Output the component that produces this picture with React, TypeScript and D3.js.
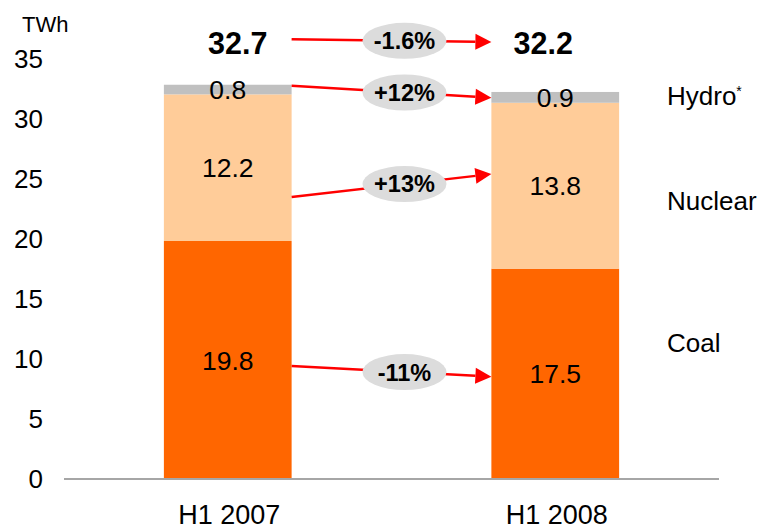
import React from "react";
import * as d3 from "d3";

// ---- data ----
const categories = ["H1 2007", "H1 2008"];
const coal = [19.8, 17.5];
const nuclear = [12.2, 13.8];
const hydro = [0.8, 0.9];
const totals = [32.7, 32.2];
const seriesNames = ["Coal", "Nuclear", "Hydro"];
const yTicks = [0, 5, 10, 15, 20, 25, 30, 35];
const unitLabel = "TWh";
// change arrows: coal, nuclear, hydro, total
const changeLabels = ["-11%", "+13%", "+12%", "-1.6%"];
const arrowFrom = [9.4, 23.46, 32.72, 36.58];
const arrowTo = [8.51, 25.37, 31.72, 36.36];

// ---- layout ----
const W = 760;
const H = 531;
const FONT = "'Liberation Sans', Arial, Helvetica, sans-serif";
const colors = ["#ff6600", "#ffcc99", "#c0c0c0"];
const legendAnchor = [11.31, 23.17, 31.86];
const totalDx = [10, -12];

export default function App() {
  const x = d3
    .scaleBand<string>()
    .domain(categories)
    .range([64, 719])
    .paddingInner(0.61)
    .paddingOuter(0.305);
  const y = d3.scaleLinear().domain([0, 35]).range([479, 58.3]);

  const rows = categories.map((c, i) => ({
    cat: c,
    Coal: coal[i],
    Nuclear: nuclear[i],
    Hydro: hydro[i],
  }));
  const stacked = d3.stack<any>().keys(seriesNames)(rows);

  const bw = x.bandwidth();
  const x0 = (x(categories[0]) ?? 0) + bw;
  const x1 = x(categories[1]) ?? 0;

  const arrows = changeLabels.map((lab, i) => {
    const ya = y(arrowFrom[i]);
    const yb = y(arrowTo[i]);
    const dx = x1 - x0;
    const dy = yb - ya;
    const len = Math.sqrt(dx * dx + dy * dy);
    const ux = dx / len;
    const uy = dy / len;
    const headL = 16;
    const headW = 8;
    const bx = x1 - ux * headL;
    const by = yb - uy * headL;
    const head = [
      [x1, yb],
      [bx - uy * headW, by + ux * headW],
      [bx + uy * headW, by - ux * headW],
    ];
    const t = 0.565;
    const cx = x0 + dx * t;
    const cy = ya + dy * t;
    return { lab, ya, yb, bx, by, head, cx, cy };
  });

  return (
    <svg
      width={W}
      height={H}
      style={{ position: "absolute", left: 0, top: 0, background: "#fff" }}
      fontFamily={FONT}
    >
      <rect x={0} y={0} width={W} height={H} fill="#fff" />
      {/* unit label */}
      <text x={22} y={32} fontSize={22} fill="#000">
        {unitLabel}
      </text>
      {/* y tick labels */}
      {yTicks.map((t) => (
        <text
          key={t}
          x={43}
          y={y(t)}
          dy="0.36em"
          textAnchor="end"
          fontSize={26}
          fill="#000"
        >
          {t}
        </text>
      ))}
      {/* bars */}
      {stacked.map((s, si) =>
        s.map((d, ci) => (
          <rect
            key={`${si}-${ci}`}
            x={x(categories[ci])}
            y={y(d[1])}
            width={bw}
            height={y(d[0]) - y(d[1])}
            fill={colors[si]}
          />
        ))
      )}
      {/* segment value labels */}
      {stacked.map((s, si) =>
        s.map((d, ci) => (
          <text
            key={`l-${si}-${ci}`}
            x={(x(categories[ci]) ?? 0) + bw / 2}
            y={(y(d[0]) + y(d[1])) / 2}
            dy="0.36em"
            textAnchor="middle"
            fontSize={26.5}
            fill="#000"
          >
            {(d[1] - d[0]).toFixed(1)}
          </text>
        ))
      )}
      {/* totals */}
      {totals.map((t, i) => (
        <text
          key={`t-${i}`}
          x={(x(categories[i]) ?? 0) + bw / 2 + totalDx[i]}
          y={54}
          textAnchor="middle"
          fontSize={30.5}
          fontWeight="bold"
          fill="#000"
        >
          {t.toFixed(1)}
        </text>
      ))}
      {/* baseline axis */}
      <line x1={64} x2={719} y1={y(0)} y2={y(0)} stroke="#a6a6a6" strokeWidth={2} />
      {/* x labels */}
      {categories.map((c) => (
        <text
          key={c}
          x={(x(c) ?? 0) + bw / 2 + 1.5}
          y={524}
          textAnchor="middle"
          fontSize={27}
          fill="#000"
        >
          {c}
        </text>
      ))}
      {/* arrows */}
      {arrows.map((a, i) => (
        <g key={`a-${i}`}>
          <line x1={x0} y1={a.ya} x2={a.bx} y2={a.by} stroke="#ff0000" strokeWidth={2.5} />
          <polygon points={a.head.map((p) => p.join(",")).join(" ")} fill="#ff0000" />
          <ellipse cx={a.cx} cy={a.cy} rx={42} ry={18} fill="#dcdcdc" />
          <text
            x={a.cx}
            y={a.cy}
            dy="0.36em"
            textAnchor="middle"
            fontSize={23.5}
            fontWeight="bold"
            fill="#000"
          >
            {a.lab}
          </text>
        </g>
      ))}
      {/* series labels */}
      {seriesNames.map((n, i) => (
        <text
          key={n}
          x={667}
          y={y(legendAnchor[i])}
          dy="0.36em"
          fontSize={26}
          fill="#000"
        >
          {n}
          {n === "Hydro" ? (
            <tspan fontSize={14} dy={-9}>
              *
            </tspan>
          ) : null}
        </text>
      ))}
    </svg>
  );
}
